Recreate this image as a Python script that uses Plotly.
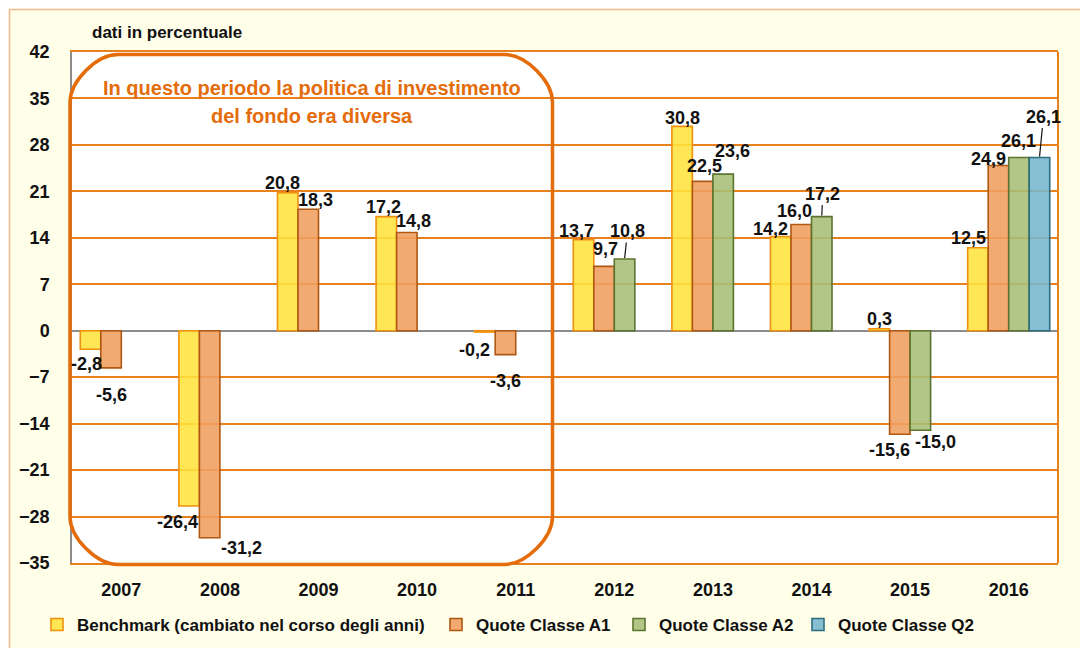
import plotly.graph_objects as go

# ---- data -------------------------------------------------------------
years = ["2007", "2008", "2009", "2010", "2011", "2012", "2013", "2014", "2015", "2016"]
benchmark = [-2.8, -26.4, 20.8, 17.2, -0.2, 13.7, 30.8, 14.2, 0.3, 12.5]
classe_a1 = [-5.6, -31.2, 18.3, 14.8, -3.6, 9.7, 22.5, 16.0, -15.6, 24.9]
classe_a2 = [None, None, None, None, None, 10.8, 23.6, 17.2, -15.0, 26.1]
classe_q2 = [None, None, None, None, None, None, None, None, None, 26.1]
series_names = [
    "Benchmark (cambiato nel corso degli anni)",
    "Quote Classe A1",
    "Quote Classe A2",
    "Quote Classe Q2",
]
y_ticks = list(range(-35, 43, 7))

# ---- styling ----------------------------------------------------------
FONT = "Liberation Sans Narrow, Arial Narrow, Liberation Sans, Arial, sans-serif"
ORANGE = "#E8801E"
BOX_ORANGE = "#E46C0A"
fills = ["rgba(255,226,60,0.88)", "rgba(240,158,96,0.88)",
         "rgba(166,190,118,0.88)", "rgba(118,182,204,0.88)"]
edges = ["#F0900E", "#B05812", "#5B7530", "#2E6D80"]

W, H = 1080, 648
L, R, T, B = 72, 22, 52, 85
PW, PH = W - L - R, H - T - B
BARGAP = 0.168
slot = PW / len(years) * (1 - BARGAP) / 4
slot_offsets = [(i - 1.5) * slot for i in range(4)]
pos = list(range(len(years)))


def px(x):
    return (x - L) / PW


def py(y):
    return (H - B - y) / PH


fig = go.Figure()
all_series = [benchmark, classe_a1, classe_a2, classe_q2]
legend_ids = ["legend", "legend2", "legend3", "legend4"]
for name, vals, fc, ec, lg in zip(series_names, all_series, fills, edges, legend_ids):
    fig.add_trace(go.Bar(
        x=pos, y=vals, name=name, legend=lg,
        marker=dict(color=fc, line=dict(color=ec, width=1.6)),
    ))

# label nudges in pixels (dx right, dy down) from each bar end
label_nudges = {
    0: [(-4, 14), (-12, 15), (-5, -11), (-3, -11), (-10, 17), (-7, -10), (0, -9), (-10, -8), (0, -11), (-9, -11)],
    1: [(0, 26), (32, 9), (7, -10), (7, -13), (0, 25), (1, -18), (2, -16), (-7, -15), (-10, 15), (-10, -7)],
    2: [None, None, None, None, None, (3, -28), (9, -24), (1, -23), (15, 11), (0, -18)],
    3: [None] * 9 + [(4, -41)],
}
BASELINE_FIX = 1  # text box centre sits a little above the glyph centre
leaders = {(2, 5), (2, 7), (3, 9)}
label_font = dict(family=FONT, size=18, color="#111", weight="bold")

annotations = []
for s, vals in enumerate(all_series):
    for i, v in enumerate(vals):
        if v is None:
            continue
        dx, dy = label_nudges[s][i]
        text = f"{v:.1f}".replace(".", ",")
        if (s, i) in leaders:
            annotations.append(dict(
                x=pos[i], y=v, xref="x", yref="y", text=text,
                xshift=slot_offsets[s], showarrow=True, arrowhead=0,
                arrowwidth=1.2, arrowcolor="#111", ax=dx, ay=dy, standoff=1,
                font=label_font,
            ))
        else:
            annotations.append(dict(
                x=pos[i], y=v, xref="x", yref="y", text=text,
                xshift=slot_offsets[s] + dx, yshift=-(dy + BASELINE_FIX),
                showarrow=False, font=label_font,
            ))

annotations.append(dict(
    x=px(90), y=py(32), xref="paper", yref="paper", xanchor="left", yanchor="middle",
    text="dati in percentuale", showarrow=False,
    font=dict(family=FONT, size=17, color="#111", weight="bold"),
))
box_font = dict(family=FONT, size=20, color=BOX_ORANGE, weight="bold")
for line_text, line_y in [("In questo periodo la politica di investimento", 88),
                          ("del fondo era diversa", 116)]:
    annotations.append(dict(
        x=px(312), y=py(line_y), xref="paper", yref="paper",
        xanchor="center", yanchor="middle",
        text=line_text, showarrow=False, font=box_font,
    ))

# rounded box around the 2007-2011 period
x0, x1, y0, y1, r = 70, 552.5, 54.5, 564.5, 48
k = 0.4477 * r
path = (
    f"M {px(x0 + r)},{py(y0)} L {px(x1 - r)},{py(y0)} "
    f"C {px(x1 - r + k)},{py(y0)} {px(x1)},{py(y0 + r - k)} {px(x1)},{py(y0 + r)} "
    f"L {px(x1)},{py(y1 - r)} "
    f"C {px(x1)},{py(y1 - r + k)} {px(x1 - r + k)},{py(y1)} {px(x1 - r)},{py(y1)} "
    f"L {px(x0 + r)},{py(y1)} "
    f"C {px(x0 + r - k)},{py(y1)} {px(x0)},{py(y1 - r + k)} {px(x0)},{py(y1 - r)} "
    f"L {px(x0)},{py(y0 + r)} "
    f"C {px(x0)},{py(y0 + r - k)} {px(x0 + r - k)},{py(y0)} {px(x0 + r)},{py(y0)} Z"
)

shapes = [
    # cream chart frame
    dict(type="rect", xref="paper", yref="paper", layer="below",
         x0=px(9.5), x1=px(1090), y0=py(9.5), y1=py(660),
         fillcolor="#FFFEE9", line=dict(color="#F4B98A", width=1.5)),
    # white plotting area
    dict(type="rect", xref="paper", yref="paper", layer="below",
         x0=0, x1=1, y0=0, y1=1, fillcolor="white", line=dict(width=0)),
    # right frame edge of plotting area
    dict(type="line", xref="paper", yref="paper", x0=1, x1=1, y0=0, y1=1,
         line=dict(color=ORANGE, width=2)),
    dict(type="path", xref="paper", yref="paper", path=path,
         line=dict(color=BOX_ORANGE, width=3.5), fillcolor="rgba(0,0,0,0)"),
]

# one legend per series so each entry sits at its own place on the row
legend_text_x = [77, 476, 659, 838]
legend_font = dict(family=FONT, size=17, color="#111", weight="bold")
legends = {}
for lg, tx in zip(legend_ids, legend_text_x):
    legends[lg] = dict(
        orientation="h", x=px(tx - 40), xanchor="left", y=py(625), yanchor="middle",
        bgcolor="rgba(0,0,0,0)", itemwidth=30, font=legend_font,
    )

fig.update_layout(
    width=W, height=H,
    margin=dict(l=L, r=R, t=T, b=B, autoexpand=False),
    paper_bgcolor="white", plot_bgcolor="rgba(0,0,0,0)",
    barmode="group", bargap=BARGAP, bargroupgap=0,
    font=dict(family=FONT, size=18, color="#111"),
    showlegend=True,
    annotations=annotations,
    shapes=shapes,
    **legends,
)
fig.update_xaxes(
    range=[-0.5, len(years) - 0.5], tickvals=pos, ticktext=years,
    showgrid=False, zeroline=False, ticks="", ticklabelstandoff=9,
    showline=True, mirror=True, linecolor=ORANGE, linewidth=2,
    tickfont=dict(family=FONT, size=18, color="#111", weight="bold"),
)
fig.update_yaxes(
    range=[-35, 42], tickvals=y_ticks, ticks="", ticklabelstandoff=17,
    showgrid=True, gridcolor=ORANGE, gridwidth=1.6,
    zeroline=True, zerolinecolor="#8C8C8C", zerolinewidth=2,
    showline=True, linecolor="#8C8C8C", linewidth=1.5,
    tickfont=dict(family=FONT, size=18, color="#111", weight="bold"),
)

fig.write_html("out.html")
